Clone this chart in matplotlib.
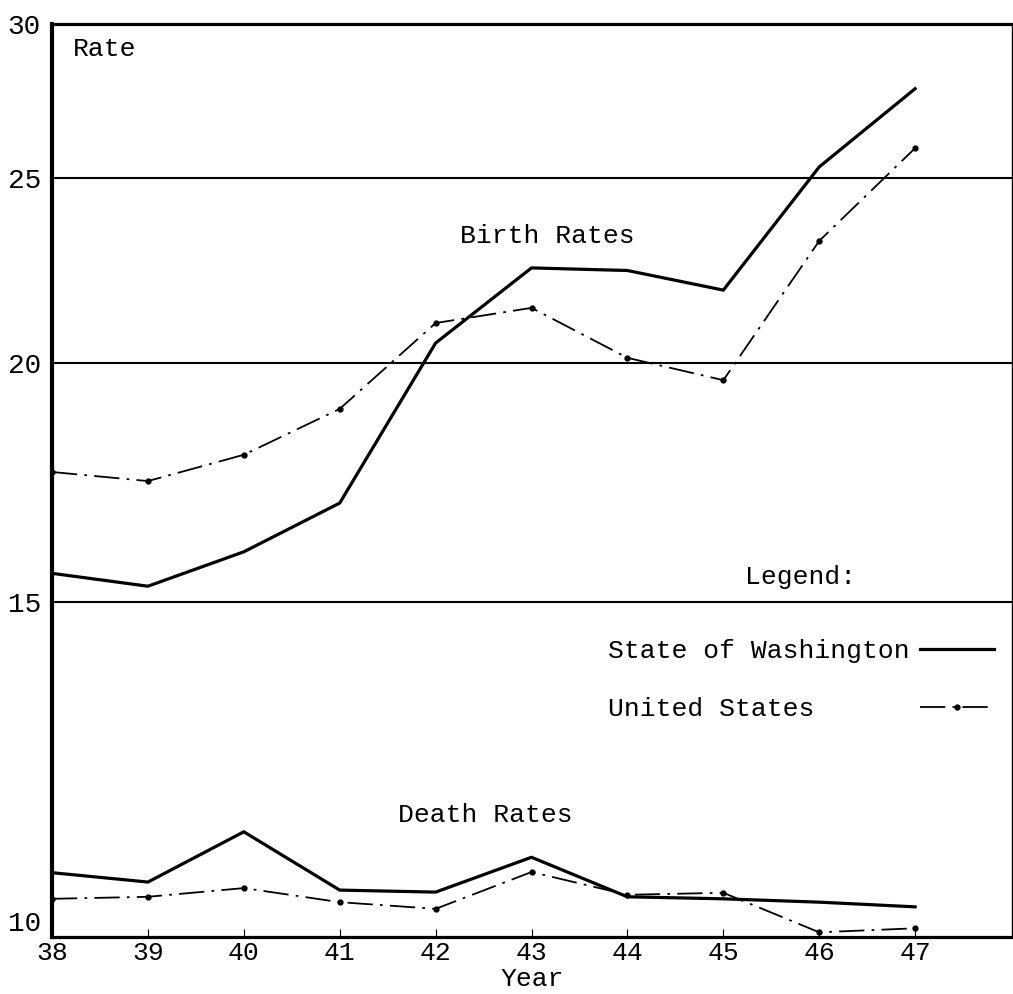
import numpy as np
import matplotlib
matplotlib.use("Agg")
import matplotlib.pyplot as plt

# Data (rates per 1,000)
years = [38, 39, 40, 41, 42, 43, 44, 45, 46, 47]
waBirth = [15.6, 15.33, 16.05, 17.07, 20.54, 22.57, 22.5, 21.97, 25.36, 27.9]
usBirth = [17.72, 17.53, 18.08, 19.04, 21.08, 21.49, 20.14, 19.64, 23.3, 25.97]
waDeath = [10.96, 10.82, 11.57, 10.70, 10.67, 11.19, 10.6, 10.57, 10.52, 10.45]
usDeath = [10.57, 10.6, 10.73, 10.52, 10.42, 10.97, 10.63, 10.66, 10.07, 10.13]
yTicks = [10, 15, 20, 25, 30]

# The hand drawn y axis is not evenly spaced, so map it piecewise
yKnots = [10, 15, 20, 25, 30]
yPix = [0, 335, 574, 759, 913]

def fwd(v):
    return np.interp(v, yKnots, yPix)

def inv(p):
    return np.interp(p, yPix, yKnots)

plt.rcParams['font.family'] = ['Liberation Mono', 'DejaVu Sans Mono']

W, H = 1013, 994
fig = plt.figure(figsize=(W / 100, H / 100), dpi=100)
ax = fig.add_axes([52 / W, (H - 937) / H, (1012 - 52) / W, (937 - 24) / H])
ax.set_yscale('function', functions=(fwd, inv))

usStyle = (0, (14, 4, 1.5, 4))

ax.plot(years, waBirth, color='black', lw=2.3, solid_joinstyle='miter',
        label='State of Washington')
ax.plot(years, usBirth, color='black', lw=1.3, linestyle=usStyle,
        marker='o', markersize=3.5, label='United States      ')
ax.plot(years, waDeath, color='black', lw=2.3)
ax.plot(years, usDeath, color='black', lw=1.3, linestyle=usStyle,
        marker='o', markersize=3.5)

# Gridlines at 15, 20, 25
for g in yTicks[1:-1]:
    ax.axhline(g, color='black', lw=1.5, zorder=0)

ax.set_xlim(38, 48.01)
ax.set_ylim(10, 30)
ax.set_xticks(years)
ax.set_xticklabels([str(y) for y in years])
ax.set_yticks(yTicks)
ax.set_yticklabels([str(t) for t in yTicks])
ax.tick_params(axis='x', direction='in', length=6, width=0.8, pad=3, labelsize=19)
ax.tick_params(axis='y', length=0, pad=8, labelsize=20)
ax.get_yticklabels()[0].set_va('bottom')
ax.set_xlabel('Year', fontsize=19, labelpad=1)

ax.spines['left'].set_linewidth(3)
ax.spines['top'].set_linewidth(2.3)
ax.spines['bottom'].set_linewidth(2.3)
ax.spines['right'].set_linewidth(1)
ax.spines['right'].set_linestyle((0, (4, 1)))

# Annotations
fig.text(73 / W, 1 - 49 / H, 'Rate', fontsize=19, va='center', ha='left')
fig.text(547 / W, 1 - 236 / H, 'Birth Rates', fontsize=19, va='center', ha='center')
fig.text(485 / W, 1 - 815 / H, 'Death Rates', fontsize=19, va='center', ha='center')

leg = ax.legend(title='Legend:', markerfirst=False, frameon=False,
                loc='upper right', bbox_to_anchor=(0.995, 0.422),
                fontsize=19, title_fontsize=19, handlelength=2.8,
                handletextpad=0.4, labelspacing=1.3, borderpad=0)
leg._legend_box.sep = 36

fig.savefig('out.png', dpi=100)
